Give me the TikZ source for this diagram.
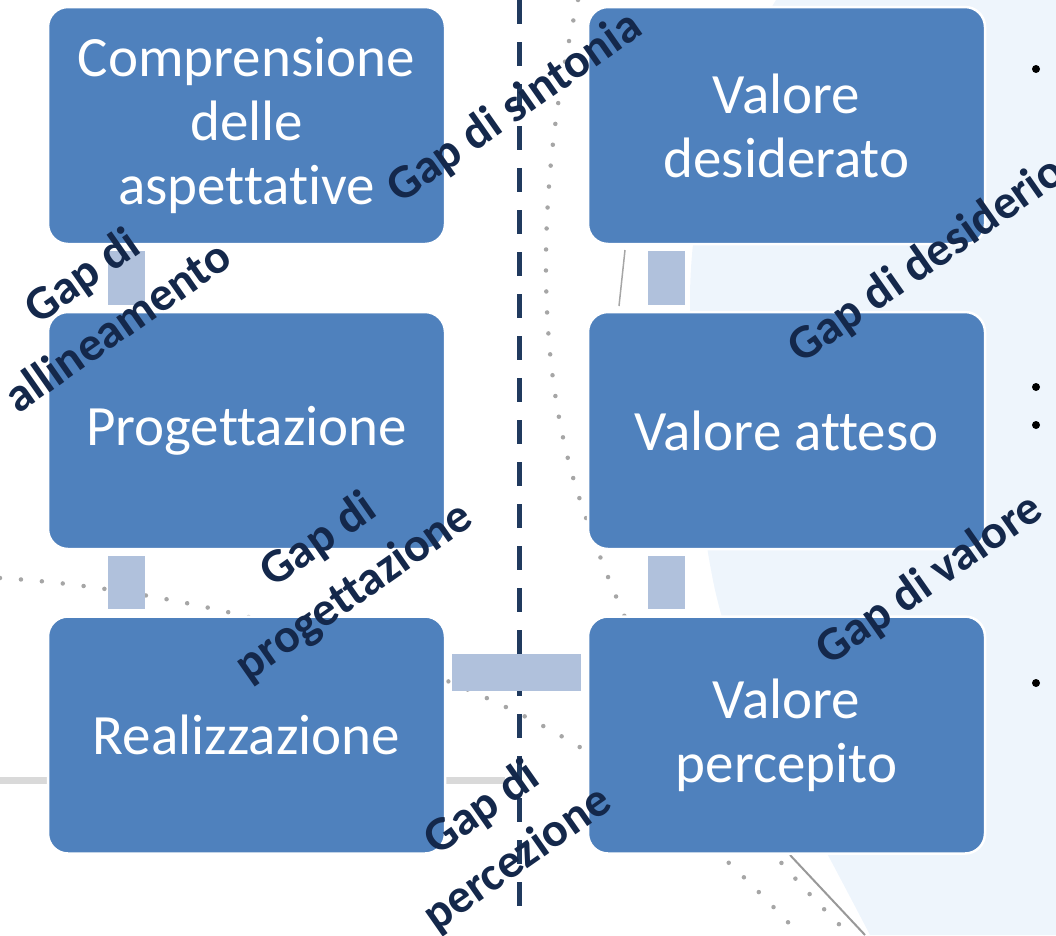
\documentclass[tikz,border=0pt]{standalone}
\usepackage{fontspec}
\setmainfont{Carlito}[Ligatures=NoCommon]
\definecolor{boxblue}{HTML}{4F81BD}
\definecolor{connblue}{HTML}{B0C1DC}
\definecolor{navy}{HTML}{14284B}
\definecolor{dashnavy}{HTML}{203A5E}
\definecolor{bgblue}{HTML}{EEF5FC}
\definecolor{dotgrey}{HTML}{A6A6A6}
\definecolor{linegrey}{HTML}{D9D9D9}
\begin{document}
\begin{tikzpicture}[x=1pt,y=-1pt,
  stagebox/.style={rectangle, rounded corners=20pt, fill=boxblue, draw=white, line width=2.5pt,
    minimum width=397pt, minimum height=237pt, text=white,
    font=\fontsize{57}{64}\selectfont, align=center, inner sep=0pt},
  conn/.style={draw=connblue, line width=37pt, shorten <=6pt, shorten >=6pt},
  gaplabel/.style={text=navy, font=\bfseries\fontsize{48}{62}\selectfont, rotate=35,
    align=center, inner sep=0pt},
  dotline/.style={draw=dotgrey, line width=4.5pt, line cap=round, dash pattern=on 0pt off 21pt},
  greyline/.style={draw=linegrey, line width=7pt},
  bullet/.style={circle, fill=black, inner sep=0pt, minimum size=8pt},
]
\useasboundingbox (0,0) rectangle (1056,935);
\clip (0,0) rectangle (1056,935);

% faint background
\fill[bgblue] (776,0) .. controls (720,90) and (690,200) .. (690,300)
  .. controls (690,420) and (700,520) .. (715,590)
  .. controls (740,700) and (800,800) .. (870,935) -- (1056,935) -- (1056,0) -- cycle;
\draw[dotline] (578,0) .. controls (540,160) and (530,350) .. (580,500)
  .. controls (630,650) and (700,790) .. (850,935);
\draw[dotline] (0,578) .. controls (200,590) and (450,660) .. (600,760)
  .. controls (680,815) and (730,860) .. (800,935);
\draw[greyline] (0,780) -- (505,780);
\draw[draw=black!35, line width=1.5pt] (625,250) -- (619,306);
\draw[draw=black!40, line width=2pt] (790,855) -- (865,935);

\node[bullet] (p1) at (1036,69) {};
\node[bullet] (p2) at (1036,387) {};
\node[bullet] (p3) at (1036,425) {};
\node[bullet] (p4) at (1036,683) {};

% dashed divider
\coordinate (dtop) at (519,0);
\coordinate (dbot) at (519,918);
\draw[dashnavy, line width=5pt, dash pattern=on 24pt off 18pt] (dtop) -- (dbot);

% boxes
\node[stagebox] (b1) at (246.5,125.5) {Comprensione\\delle\\aspettative};
\node[stagebox] (b2) at (246.5,430.5) {Progettazione};
\node[stagebox] (b3) at (246.5,735) {Realizzazione};
\node[stagebox] (r1) at (786.5,125.5) {Valore\\desiderato};
\node[stagebox] (r2) at (786.5,430.5) {Valore atteso};
\node[stagebox] (r3) at (786.5,735) {Valore\\percepito};

% connectors
\draw[conn] ([xshift=79.5pt]b1.south west) -- ([xshift=79.5pt]b2.north west);
\draw[conn] ([xshift=79.5pt]b2.south west) -- ([xshift=79.5pt]b3.north west);
\draw[conn] ([xshift=79.5pt]r1.south west) -- ([xshift=79.5pt]r2.north west);
\draw[conn] ([xshift=79.5pt]r2.south west) -- ([xshift=79.5pt]r3.north west);
\draw[conn] ([yshift=-57pt]b3.north east) -- ([yshift=-57pt]r3.north west);

% gap labels
\node[gaplabel] (gsint) at (515,108) {Gap di sintonia};
\node[gaplabel] (gall) at (99,300) {Gap di\\allineamento};
\node[gaplabel] (gprog) at (337,567) {Gap di\\progettazione};
\node[gaplabel] (gperc) at (500,834) {Gap di\\percezione};
\node[gaplabel] (gdes) at (927,261) {Gap di desiderio};
\node[gaplabel] (gval) at (930,580) {Gap di valore};
\end{tikzpicture}
\end{document}
